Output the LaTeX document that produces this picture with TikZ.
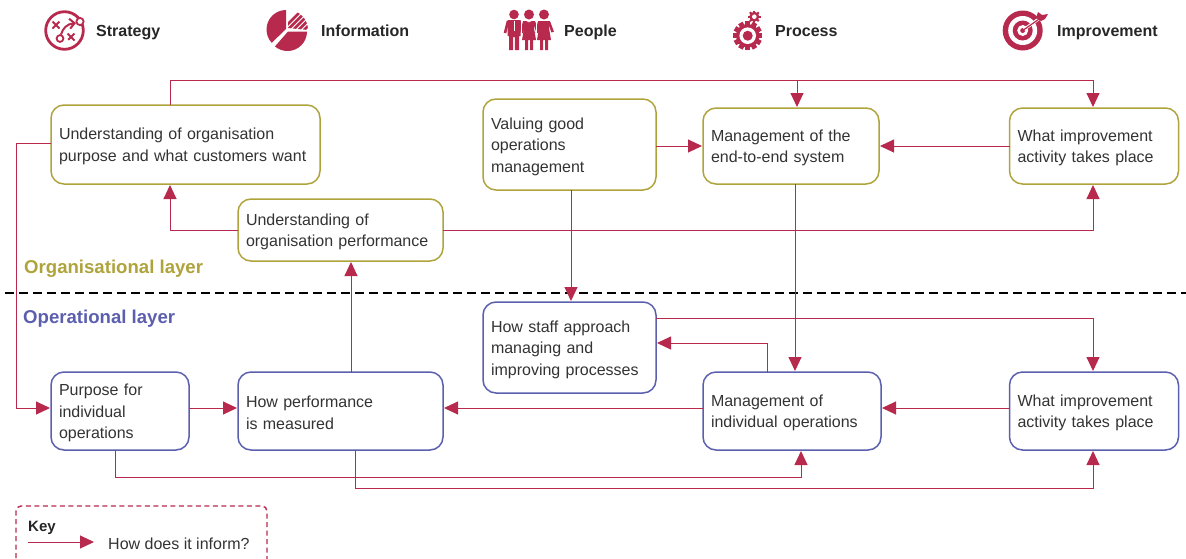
\documentclass[tikz,border=0pt]{standalone}
\usepackage{fontspec}
\setmainfont{Liberation Sans}
\usetikzlibrary{arrows.meta}
\definecolor{crimson}{HTML}{B72A4D}
\definecolor{olivebox}{HTML}{AFA33C}
\definecolor{indigobox}{HTML}{5B5FAE}
\definecolor{bodytext}{HTML}{333333}
\tikzset{
    box/.style={draw,rounded corners=13pt,line width=1.5pt,anchor=north west,inner xsep=8pt,inner ysep=0pt,outer sep=0pt,
        align=left,text=bodytext,font=\fontsize{16}{21.5}\selectfont,execute at begin node={\rule{0pt}{15.5pt}}},
    orgbox/.style={box,draw=olivebox},
    opbox/.style={box,draw=indigobox},
    link/.style={color=crimson,line width=1pt},
    head/.style={anchor=base west,inner sep=0pt,font=\fontsize{16}{19}\selectfont\bfseries,text=black!85},
    layer/.style={anchor=base west,inner sep=0pt,font=\fontsize{18.6}{20}\selectfont\bfseries},
}
\newcommand{\gearicon}[5]{% x, y, radius, teeth, hole
    \foreach \a in {1,...,#4}
        \fill[crimson,rotate around={\a*360/#4:(#1,#2)}] (#1-#3*0.17,#2) rectangle (#1+#3*0.17,#2-#3);
    \fill[crimson] (#1,#2) circle (#3*0.8);
    \fill[white] (#1,#2) circle (#5);
}
\begin{document}
\begin{tikzpicture}[x=1pt,y=-1pt,>={Triangle[length=14pt,width=13pt]},shorten >=1pt,every edge/.append style={link}]
    \useasboundingbox (0,0) rectangle (1186,558);

    % icons
    \draw[crimson,line width=2.8pt] (64.5,30.5) circle (18.8);
    \draw[crimson,line width=1.8pt,fill=white] (80,21.5) circle (3.6);
    \draw[crimson,line width=1.8pt,fill=white] (60,38.5) circle (3.4);
    \draw[crimson,line width=2pt,-{Straight Barb[length=5pt,width=10pt]},shorten >=0pt] (61,34.5) .. controls (63,28) and (67,24) .. (76,23);
    \draw[crimson,line width=2pt] (52.5,21.5) -- (59.5,28.5) (59.5,21.5) -- (52.5,28.5) (67.5,33.5) -- (74.5,40.5) (74.5,33.5) -- (67.5,40.5);

    \fill[crimson] (286,29) -- (286,10) arc (-90:-223:19.5) -- cycle;
    \fill[crimson] (288,31.5) -- (307,31.5) arc (0:130:19.5) -- cycle;
    \begin{scope}
        \clip (288,28) -- (288,10) arc (-90:0:20) -- cycle;
        \foreach \d in {0,5.5,...,33}
            \draw[crimson,line width=2.6pt] (282+\d,30) -- (305+\d,7);
    \end{scope}

    \foreach \m/\w in {514/0}{
        \fill[crimson] (\m,14.5) circle (4.8);
        \fill[crimson] (\m-6.5,20) -- (\m+6.5,20) -- (\m+6.5,36) -- (\m+5,36) -- (\m+5,50) -- (\m+0.8,50) -- (\m+0.8,37)
            -- (\m-0.8,37) -- (\m-0.8,50) -- (\m-5,50) -- (\m-5,36) -- (\m-6.5,36) -- cycle;
        \draw[crimson,line width=2.6pt] (\m-6,21) -- (\m-9,33) (\m+6,21) -- (\m+8,33);
        \draw[white,line width=.9pt] (\m,21) -- (\m,32);
    }
    \foreach \f in {529,544}{
        \fill[crimson] (\f,14.5) circle (5);
        \fill[crimson] (\f-6,21) -- (\f+6,21) -- (\f+5,28) -- (\f+7,40) -- (\f+4,40) -- (\f+4,50) -- (\f+1,50) -- (\f+1,40)
            -- (\f-1,40) -- (\f-1,50) -- (\f-4,50) -- (\f-4,40) -- (\f-7,40) -- (\f-5,28) -- cycle;
        \draw[crimson,line width=2.6pt] (\f-5,22) -- (\f-7,33) (\f+5,22) -- (\f+9,33);
    }
    \draw[white,line width=.6pt] (521.5,20) -- (521.5,42) (536.5,20) -- (536.5,42);
    \draw[white,line width=.7pt] (525,19.8) -- (529,22) -- (533,19.8);

    \gearicon{747.7}{35.7}{14.7}{12}{8.3}
    \fill[crimson] (747.7,35.7) circle (5);
    \gearicon{754.3}{16.7}{6.2}{8}{2.3}

    \fill[crimson] (1022.7,30.5) circle (20);
    \fill[white] (1022.7,30.5) circle (14.5);
    \fill[crimson] (1022.7,30.5) circle (10);
    \fill[white] (1022.7,30.5) circle (5.5);
    \fill[crimson] (1022.7,30.5) circle (2.5);
    \draw[white,line width=3pt] (1024,29.5) -- (1040,18);
    \draw[crimson,line width=1.2pt] (1022.7,30.5) -- (1042,17);
    \fill[crimson] (1036,18) -- (1038,12) -- (1042,15) -- (1048,14) -- (1045,19) -- (1041,21) -- cycle;

    % headings
    \node[head] (strategy) at (96,36) {Strategy};
    \node[head] (information) at (321,36) {Information};
    \node[head] (people) at (564,36) {People};
    \node[head] (process) at (775,36) {Process};
    \node[head] (improvement) at (1057,36) {Improvement};

    % organisational layer
    \node[orgbox,minimum width=269pt,minimum height=79pt,text width=253pt] (A) at (51,105) {Understanding of organisation\\purpose and what customers want};
    \node[orgbox,minimum width=205pt,minimum height=62pt,text width=189pt] (B) at (238,199) {Understanding of\\organisation performance};
    \node[orgbox,minimum width=173pt,minimum height=91pt,text width=157pt] (C) at (483,99) {Valuing good\\operations\\management};
    \node[orgbox,minimum width=176pt,minimum height=76pt,text width=160pt] (D) at (703,108) {Management of the\\end-to-end system};
    \node[orgbox,minimum width=169pt,minimum height=76pt,text width=153pt] (E) at (1009.5,108) {What improvement\\activity takes place};

    % operational layer
    \node[opbox,minimum width=173pt,minimum height=91pt,text width=157pt] (F) at (483,302) {How staff approach\\managing and\\improving processes};
    \node[opbox,minimum width=138pt,minimum height=78pt,text width=122pt] (G) at (51,372) {Purpose for\\individual\\operations};
    \node[opbox,minimum width=205pt,minimum height=78pt,text width=189pt] (H) at (238,372) {How performance\\is measured};
    \node[opbox,minimum width=178pt,minimum height=78pt,text width=162pt] (I) at (703,372) {Management of\\individual operations};
    \node[opbox,minimum width=169pt,minimum height=78pt,text width=153pt] (J) at (1009.5,372) {What improvement\\activity takes place};

    \node[layer,text=olivebox] (orglayer) at (24,273) {Organisational layer};
    \node[layer,text=indigobox] (oplayer) at (23,323) {Operational layer};
    \coordinate (divl) at (5,293);
    \coordinate (divr) at (1186,293);
    \draw[line width=2pt,dash pattern=on 9pt off 5pt,shorten >=0pt] (divl) -- (divr);

    % routing points
    \coordinate (topl) at (170,80);
    \coordinate (topm) at (797,80);
    \coordinate (topr) at (1093,80);
    \coordinate (farl) at (16,143);
    \coordinate (farb) at (16,408);
    \coordinate (perfl) at (170,230);
    \coordinate (perfr) at (1093,230);
    \coordinate (staffr) at (1093,318);
    \coordinate (backr) at (767,343);
    \coordinate (lowa) at (115,477);
    \coordinate (lowb) at (801,477);
    \coordinate (lowc) at (355,488);
    \coordinate (lowd) at (1093,488);
    \coordinate (rowd) at (0,146);
    \coordinate (rowc) at (0,408);
    \coordinate (valx) at (571,0);
    \coordinate (sysx) at (795,0);
    \coordinate (perx) at (351,0);

    \draw[link,shorten >=0pt] (A.north -| topl) -- (topl) -- (topr);
    \path[->] (topr) edge (E.north -| topr)
        (topm) edge (D.north -| topm);
    \draw[link,->] (A.west |- farl) -- (farl) -- (farb) -- (G.west |- farb);
    \draw[link,->] (B.west |- perfl) -- (perfl) -- (A.south -| perfl);
    \draw[link,->] (B.east |- perfr) -- (perfr) -- (E.south -| perfr);
    \draw[link,->] (F.east |- staffr) -- (staffr) -- (J.north -| staffr);
    \draw[link,->] (I.north -| backr) -- (backr) -- (F.east |- backr);
    \draw[link,->] (G.south -| lowa) -- (lowa) -- (lowb) -- (I.south -| lowb);
    \draw[link,->] (H.south -| lowc) -- (lowc) -- (lowd) -- (J.south -| lowd);
    \path[->] (C.east |- rowd) edge (D.west |- rowd)
        (E.west |- rowd) edge (D.east |- rowd)
        (C.south -| valx) edge (F.north -| valx)
        (D.south -| sysx) edge (I.north -| sysx)
        (H.north -| perx) edge (B.south -| perx)
        (I.west |- rowc) edge (H.east |- rowc)
        (J.west |- rowc) edge (I.east |- rowc)
        (G.east |- rowc) edge (H.west |- rowc);

    % key
    \draw[crimson,line width=1.4pt,dash pattern=on 5pt off 3.5pt,rounded corners=5pt] (16,575) -- (16,506) -- (267,506) -- (267,575);
    \node[anchor=base west,inner sep=0pt,font=\fontsize{15}{18}\selectfont\bfseries,text=black!85] (key) at (28,531) {Key};
    \coordinate (keya) at (28,542);
    \coordinate (keyb) at (94,542);
    \node[anchor=base west,inner sep=0pt,font=\fontsize{16}{19}\selectfont,text=bodytext] (keytext) at (108,549) {How does it inform?};
    \draw[link,->,shorten >=0pt] (keya) -- (keyb);
\end{tikzpicture}
\end{document}
